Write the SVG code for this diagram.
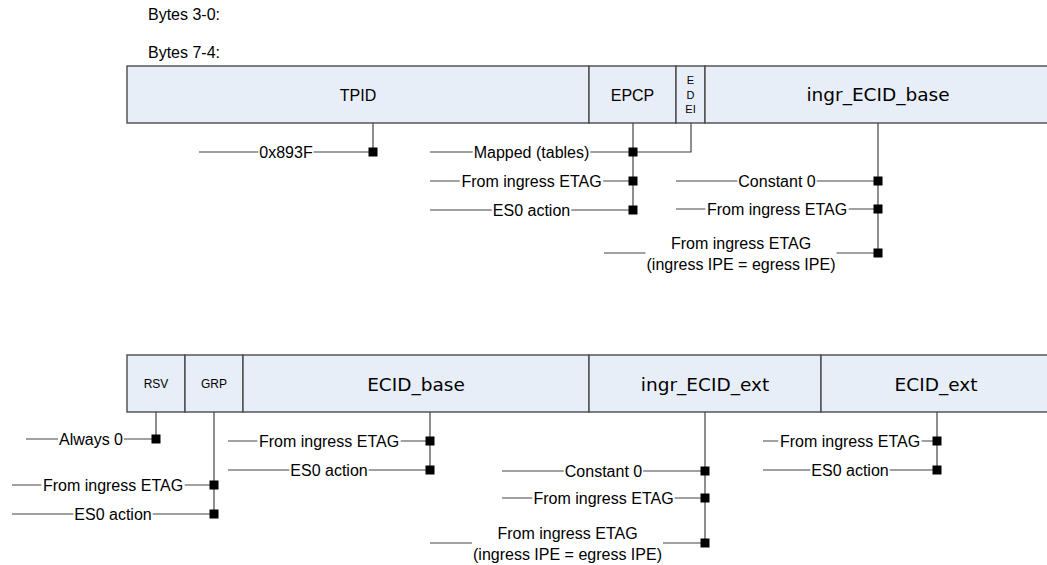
<svg xmlns="http://www.w3.org/2000/svg" width="1047" height="565" viewBox="0 0 1047 565">
<style>
.box{fill:#E8EEF7;stroke:#4a4a4a;stroke-width:1.4}
.ln{stroke:#444;stroke-width:1.2;fill:none}
.sq{fill:#000}
.lbl{font-family:"Liberation Sans",Arial,sans-serif;font-size:16px;fill:#000;text-anchor:middle}
.hdr{font-family:"Liberation Sans",Arial,sans-serif;font-size:16px;fill:#000}
.fld{font-family:"Liberation Sans",Arial,sans-serif;font-size:16px;fill:#000;text-anchor:middle}
.sm{font-family:"Liberation Sans",Arial,sans-serif;font-size:12px;fill:#000;text-anchor:middle}
.xs{font-family:"Liberation Sans",Arial,sans-serif;font-size:11px;fill:#000;text-anchor:middle}
.big{font-family:"DejaVu Sans",Verdana,sans-serif;font-size:18.5px;fill:#000;text-anchor:middle}
</style>
<rect width="1047" height="565" fill="#fff"/>
<text class="hdr" x="148" y="20">Bytes 3-0:</text>
<text class="hdr" x="148" y="57.5">Bytes 7-4:</text>

<!-- top row fields -->
<g id="tpid"><rect class="box" x="127" y="66" width="462" height="57"/><text class="fld" x="358" y="100.5">TPID</text></g>
<g id="epcp"><rect class="box" x="589" y="66" width="87" height="57"/><text class="fld" x="632.5" y="100.5">EPCP</text></g>
<g id="edei"><rect class="box" x="676" y="66" width="29" height="57"/><text class="xs" x="690.5" y="84">E</text><text class="xs" x="690.5" y="98.5">D</text><text class="xs" x="690.5" y="113">EI</text></g>
<g id="ingr_ecid_base"><rect class="box" x="705" y="66" width="360" height="57"/><text class="big" x="878" y="101">ingr_ECID_base</text></g>

<!-- bottom row fields -->
<g id="rsv"><rect class="box" x="127" y="355" width="58" height="57"/><text class="sm" x="156" y="388">RSV</text></g>
<g id="grp"><rect class="box" x="185" y="355" width="58" height="57"/><text class="sm" x="214" y="388">GRP</text></g>
<g id="ecid_base"><rect class="box" x="243" y="355" width="346" height="57"/><text class="big" x="416" y="390.5">ECID_base</text></g>
<g id="ingr_ecid_ext"><rect class="box" x="589" y="355" width="232" height="57"/><text class="big" x="705" y="390.5">ingr_ECID_ext</text></g>
<g id="ecid_ext"><rect class="box" x="821" y="355" width="244" height="57"/><text class="big" x="936" y="390.5">ECID_ext</text></g>

<g id="connectors">
<path class="ln" d="M373 123V152 M633 123V210 M691 123V152H633 M878 123V253 M156 412V439 M214 412V514 M430 412V470 M705 412V543 M937 412V470"/>
<path class="ln" d="M199 152H258.3 M313.7 152H373
M430 152H472.7 M590.3 152H633
M430 181H459.8 M603.2 181H633
M430 210H491.8 M571.2 210H633
M676 181H737.3 M816.7 181H878
M676 209H705.3 M848.7 209H878
M604 253H645.5 M836.5 253H878
M26 439H58 M124 439H156
M12 485H41.3 M184.7 485H214
M12 514H73.3 M152.7 514H214
M228 441H257.3 M400.7 441H430
M228 470H289.3 M368.7 470H430
M502 471H563.8 M643.2 471H705
M502 498H532.3 M674.7 498H705
M430 543H472 M663 543H705
M763 441H778.3 M921.7 441H937
M763 470H810.3 M889.7 470H937"/>
<g class="sq">
<rect x="368.5" y="147.5" width="9" height="9"/>
<rect x="628.5" y="147.5" width="9" height="9"/>
<rect x="628.5" y="176.5" width="9" height="9"/>
<rect x="628.5" y="205.5" width="9" height="9"/>
<rect x="873.5" y="176.5" width="9" height="9"/>
<rect x="873.5" y="204.5" width="9" height="9"/>
<rect x="873.5" y="248.5" width="9" height="9"/>
<rect x="151.5" y="434.5" width="9" height="9"/>
<rect x="209.5" y="480.5" width="9" height="9"/>
<rect x="209.5" y="509.5" width="9" height="9"/>
<rect x="425.5" y="436.5" width="9" height="9"/>
<rect x="425.5" y="465.5" width="9" height="9"/>
<rect x="700.5" y="466.5" width="9" height="9"/>
<rect x="700.5" y="493.5" width="9" height="9"/>
<rect x="700.5" y="538.5" width="9" height="9"/>
<rect x="932.5" y="436.5" width="9" height="9"/>
<rect x="932.5" y="465.5" width="9" height="9"/>
</g>
</g>

<g id="labels">
<text class="lbl" x="286" y="158">0x893F</text>
<text class="lbl" x="531.5" y="158">Mapped (tables)</text>
<text class="lbl" x="531.5" y="187">From ingress ETAG</text>
<text class="lbl" x="531.5" y="216">ES0 action</text>
<text class="lbl" x="777" y="187">Constant 0</text>
<text class="lbl" x="777" y="215">From ingress ETAG</text>
<text class="lbl" x="741" y="248.8">From ingress ETAG</text>
<text class="lbl" x="741" y="269.8">(ingress IPE = egress IPE)</text>
<text class="lbl" x="91" y="445">Always 0</text>
<text class="lbl" x="113" y="491">From ingress ETAG</text>
<text class="lbl" x="113" y="520">ES0 action</text>
<text class="lbl" x="329" y="447">From ingress ETAG</text>
<text class="lbl" x="329" y="476">ES0 action</text>
<text class="lbl" x="603.5" y="477">Constant 0</text>
<text class="lbl" x="603.5" y="504">From ingress ETAG</text>
<text class="lbl" x="567.5" y="538.8">From ingress ETAG</text>
<text class="lbl" x="567.5" y="559.8">(ingress IPE = egress IPE)</text>
<text class="lbl" x="850" y="447">From ingress ETAG</text>
<text class="lbl" x="850" y="476">ES0 action</text>
</g>
</svg>
